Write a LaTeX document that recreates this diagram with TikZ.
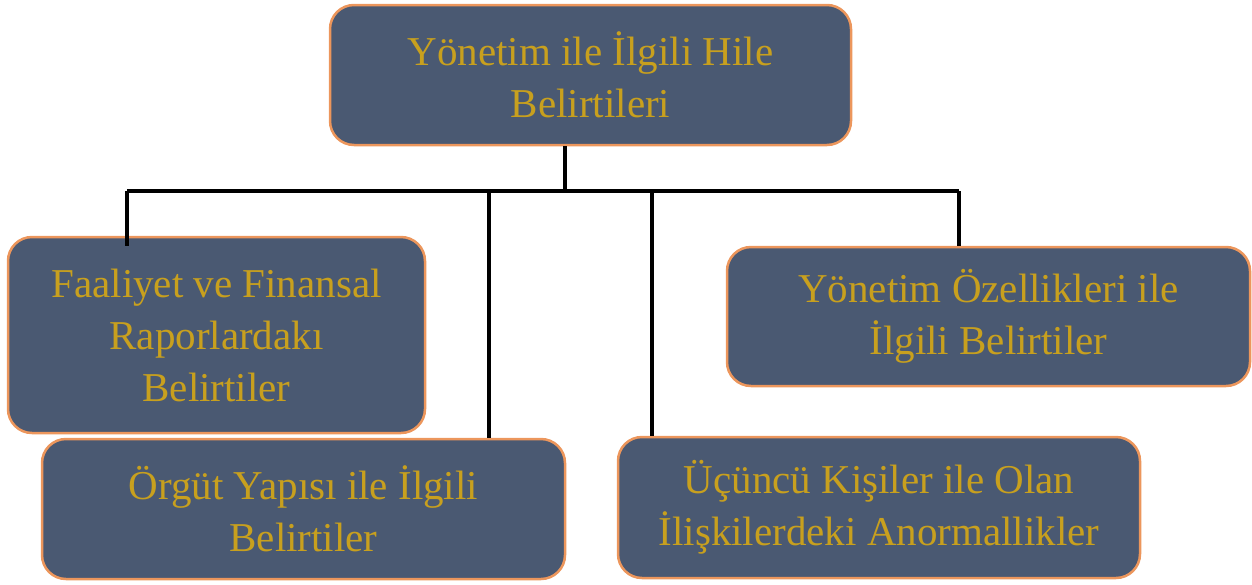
\documentclass[tikz,border=0pt]{standalone}
\usepackage{fontspec}
\setmainfont{Liberation Serif}
\definecolor{boxfill}{RGB}{74,89,114}
\definecolor{boxline}{RGB}{236,150,92}
\definecolor{gold}{RGB}{200,160,30}
\begin{document}
\begin{tikzpicture}[x=1pt,y=-1pt,
  card/.style={draw=boxline, line width=2.5pt, fill=boxfill, rounded corners=24pt,
    inner sep=0pt, align=center, text=gold,
    font=\fontsize{41}{52}\selectfont},
  link/.style={line width=3.3pt, black}]
\useasboundingbox (0,0) rectangle (1252,584);

% boxes
\node[card, minimum width=521pt, minimum height=140pt] (top) at (590.5,75)
  {Yönetim ile İlgili Hile\\Belirtileri};
\node[card, minimum width=417pt, minimum height=196pt] (fin) at (216.5,335)
  {Faaliyet ve Finansal\\Raporlardakı\\Belirtiler};
\node[card, minimum width=523pt, minimum height=139pt] (yon) at (988.5,316.5)
  {Yönetim Özellikleri ile\\İlgili Belirtiler};
\node[card, minimum width=523pt, minimum height=140pt] (org) at (303.5,509)
  {Örgüt Yapısı ile İlgili\\Belirtiler};
\node[card, minimum width=522pt, minimum height=141pt] (ucu) at (879,507.5)
  {Üçüncü Kişiler ile Olan\\İlişkilerdeki Anormallikler};

% junction points on the distribution bar
\coordinate (hub) at (565,191);
\coordinate (b1) at (127,191);
\coordinate (b2) at (489,191);
\coordinate (b3) at (652,191);
\coordinate (b4) at (959,191);

% connectors
\draw[link] (top.south -| hub) -- (hub);
\draw[link] (b1) -- (b4);
\draw[link] (b1) -- ([yshift=-10pt]b1 |- fin.north);
\draw[link] (b2) -- (b2 |- org.north);
\draw[link] (b3) -- (b3 |- ucu.north);
\draw[link] (b4) -- (b4 |- yon.north);
\end{tikzpicture}
\end{document}
